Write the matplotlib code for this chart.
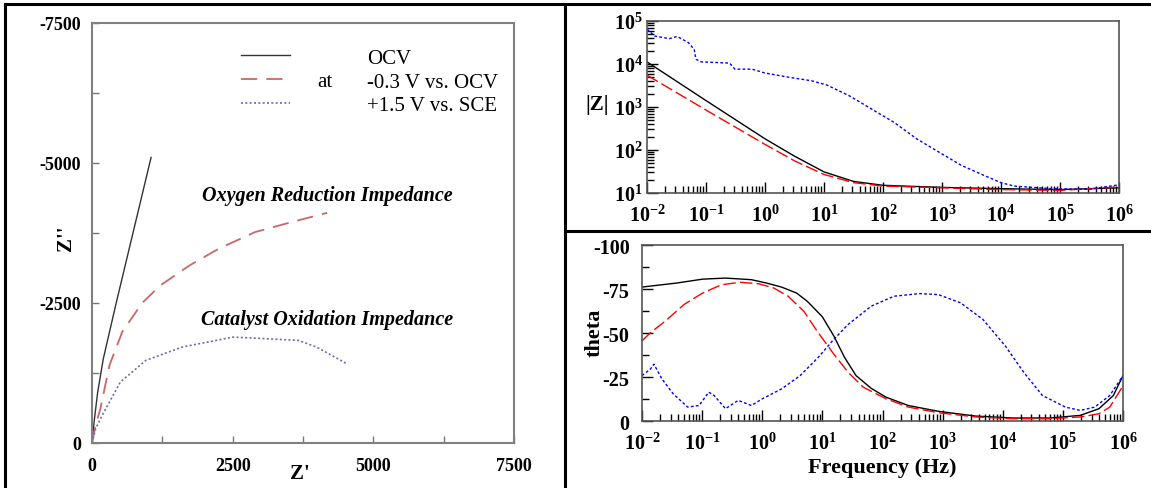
import matplotlib
matplotlib.use("Agg")
import matplotlib.pyplot as plt
import numpy as np
from matplotlib.lines import Line2D
from matplotlib.ticker import LogLocator, NullFormatter, MultipleLocator

plt.rcParams["font.family"] = ["Liberation Serif", "DejaVu Serif"]
plt.rcParams["mathtext.fontset"] = "custom"
plt.rcParams["mathtext.rm"] = "Liberation Serif"
plt.rcParams["mathtext.bf"] = "Liberation Serif:bold"
plt.rcParams["mathtext.it"] = "Liberation Serif:italic"

# Nyquist data (Z', Z'')
ocv_re = [0, 40, 100, 200, 430, 1050]
ocv_im = [0, -400, -900, -1500, -2500, -5100]
neg_re = [0, 60, 149, 310, 536, 891, 1214, 1731, 2248, 2894, 3540, 4180]
neg_im = [0, -300, -613, -1386, -1981, -2500, -2813, -3170, -3467, -3765, -3943, -4110]
pos_re = [0, 65, 181, 504, 956, 1602, 2506, 2894, 3669, 3992, 4509]
pos_im = [0, -256, -494, -1088, -1475, -1713, -1891, -1873, -1832, -1713, -1427]

# Bode |Z|
zf_ocv = [0.01, 0.1, 1, 3.16, 10, 31.6, 100, 1000, 1e4, 1e5, 1e6]
zm_ocv = [11200, 1410, 182, 72, 31, 18.6, 15.1, 13.5, 12.6, 12.0, 13.2]
zf_neg = [0.01, 0.1, 1, 3.16, 10, 31.6, 100, 1000, 1e4, 1e5, 1e6]
zm_neg = [5500, 850, 135, 56, 27, 17.4, 14.5, 13.2, 12.0, 11.5, 13.8]
zf_pos = [0.01, 0.0135, 0.024, 0.0324, 0.05, 0.063, 0.0676, 0.083, 0.251, 0.309,
          0.603, 1, 2.57, 6.17, 11.2, 26.9, 64.6, 155, 372, 891, 2140, 5130,
          1e4, 16600, 72400, 309000, 1e6]
zm_pos = [64600, 44700, 38900, 43700, 31600, 21900, 12900, 11200, 10500, 7590,
          7590, 6170, 4900, 4070, 3240, 1820, 891, 437, 182, 89, 43.7, 25.7,
          17.4, 14.5, 12.6, 12.2, 15.5]

# Bode phase
tf_ocv = [0.01, 0.038, 0.102, 0.245, 0.66, 1.17, 2.09, 3.72, 5.62, 10, 15.5,
          23.4, 36.3, 64.6, 115, 269, 851, 3550, 14800, 61700, 195000, 398000,
          692000, 1e6]
th_ocv = [-76.1, -78.4, -80.6, -81.2, -80.3, -78.4, -76.1, -72.7, -68, -59.2,
          -48.3, -36.1, -25.8, -18.6, -13.5, -8.8, -5.5, -2.8, -1.7, -1.7, -3.2,
          -7, -14.5, -25.8]
tf_neg = [0.01, 0.0138, 0.0245, 0.05, 0.102, 0.209, 0.427, 0.871, 1.55, 2.69,
          4.9, 8.51, 15.5, 26.9, 47.9, 115, 269, 851, 3550, 14800, 61700,
          195000, 398000, 603000, 1e6]
th_neg = [-45.5, -50.2, -56.8, -66.2, -72.7, -77.4, -78.8, -78, -75.6, -70.9,
          -62.4, -50.2, -38, -27.6, -19.2, -12.6, -7.9, -4.7, -2.3, -1.3, -1.3,
          -2.3, -4.1, -7.9, -20]
tf_pos = [0.01, 0.0138, 0.0158, 0.0214, 0.0331, 0.0575, 0.0891, 0.129, 0.158,
          0.245, 0.398, 0.661, 1, 2.09, 4.27, 8.51, 15.5, 26.9, 64.6, 155, 417,
          851, 2000, 4680, 11000, 22400, 45700, 110000, 195000, 339000, 603000, 1e6]
th_pos = [-25.8, -29.5, -32.3, -23.9, -15.4, -7.9, -8.8, -16.4, -14.5, -7,
          -11.7, -8.8, -12.6, -18.2, -25.8, -36.1, -46.4, -54.9, -65.2, -70.9,
          -72.4, -71.8, -67.1, -57.7, -42.7, -27.6, -14.5, -7.9, -6, -7.9,
          -14.5, -25.8]

legend_labels = ["OCV", "-0.3 V vs. OCV", "+1.5 V vs. SCE"]
nyq_ticks = [0, 2500, 5000, 7500]
dec_ticks = [1e-2, 1e-1, 1e0, 1e1, 1e2, 1e3, 1e4, 1e5, 1e6]
dec_labels = [r"$\mathbf{10^{-2}}$", r"$\mathbf{10^{-1}}$", r"$\mathbf{10^{0}}$",
              r"$\mathbf{10^{1}}$", r"$\mathbf{10^{2}}$", r"$\mathbf{10^{3}}$",
              r"$\mathbf{10^{4}}$", r"$\mathbf{10^{5}}$", r"$\mathbf{10^{6}}$"]
zmag_ticks = [1e1, 1e2, 1e3, 1e4, 1e5]
zmag_labels = [r"$\mathbf{10^{1}}$", r"$\mathbf{10^{2}}$", r"$\mathbf{10^{3}}$",
               r"$\mathbf{10^{4}}$", r"$\mathbf{10^{5}}$"]
theta_ticks = [0, -25, -50, -75, -100]
theta_labels = ["0", "-25", "-50", "-75", "-100"]

W, H = 1151, 489
fig = plt.figure(figsize=(W / 100, H / 100), dpi=100)


def box(x0, y0, x1, y1):
    return [x0 / W, 1 - y1 / H, (x1 - x0) / W, (y1 - y0) / H]


# frame lines
for xs, ys in [((5, W), (5, 5)), ((5, 5), (5, H)), ((565, 565), (5, H)), ((565, W), (232, 232))]:
    fig.add_artist(Line2D([x / W for x in xs], [1 - y / H for y in ys],
                          color="black", lw=2.2, transform=fig.transFigure))

# ---- Nyquist ----
ax = fig.add_axes(box(92, 24, 514, 444))
ax.plot(ocv_re, ocv_im, color="#333333", lw=1.0)
ax.plot(neg_re, neg_im, color="#c86868", lw=1.3, dashes=(9, 5))
ax.plot(pos_re, pos_im, color="#6a6ab8", lw=1.2, dashes=(1.2, 1.4))
ax.set_xlim(0, 7500)
ax.set_ylim(0, -7500)
ax.set_xticks(nyq_ticks)
ax.set_xticklabels([str(v) for v in nyq_ticks])
ax.set_yticks([-v for v in nyq_ticks])
ax.set_yticklabels(["0" if v == 0 else "-%d" % v for v in nyq_ticks])
ax.xaxis.set_minor_locator(MultipleLocator(1250))
ax.yaxis.set_minor_locator(MultipleLocator(1250))
ax.tick_params(which="both", direction="in", length=5, width=1, color="#777777",
               labelsize=13)
ax.tick_params(axis="x", pad=10)
ax.tick_params(axis="y", pad=8)
for lab in ax.get_xticklabels() + ax.get_yticklabels():
    lab.set_fontweight("bold")
for sp in ax.spines.values():
    sp.set_color("#808080")
    sp.set_linewidth(1.5)
ax.text(-0.062, 0.49, "Z''", transform=ax.transAxes, rotation=90, ha="center",
        va="center", fontsize=15, fontweight="bold")
ax.text(0.493, -0.072, "Z'", transform=ax.transAxes, ha="center", va="center",
        fontsize=15, fontweight="bold")
handles = [Line2D([], [], color="#333333", lw=1.0),
           Line2D([], [], color="#c86868", lw=1.3, dashes=(9, 5)),
           Line2D([], [], color="#6a6ab8", lw=1.2, dashes=(1.2, 1.4))]
ax.legend(handles, legend_labels, loc="upper left", bbox_to_anchor=(0.352, 0.94),
          frameon=False, fontsize=15, handlelength=2.36, handletextpad=3.7,
          labelspacing=0.2, borderaxespad=0, borderpad=0)
ax.text(0.552, 0.86, "at", transform=ax.transAxes, ha="center", va="center",
        fontsize=15)
ax.text(0.557, 0.590, "Oxygen Reduction Impedance", transform=ax.transAxes,
        ha="center", va="center", fontsize=14.5, fontweight="bold", fontstyle="italic")
ax.text(0.557, 0.295, "Catalyst Oxidation Impedance", transform=ax.transAxes,
        ha="center", va="center", fontsize=14.5, fontweight="bold", fontstyle="italic")


def style_bode(a):
    a.set_xscale("log")
    a.set_xlim(1e-2, 1e6)
    a.set_xticks(dec_ticks)
    a.set_xticklabels(dec_labels)
    a.xaxis.set_minor_locator(LogLocator(base=10, subs=np.arange(2, 10), numticks=100))
    a.xaxis.set_minor_formatter(NullFormatter())
    a.tick_params(which="major", direction="in", length=8, width=1, labelsize=14.5,
                  top=False, right=False)
    a.tick_params(which="minor", direction="in", length=5, width=1,
                  top=False, right=False)
    for sp in a.spines.values():
        sp.set_color("#555555")
        sp.set_linewidth(1.2)


# ---- |Z| ----
az = fig.add_axes(box(647, 22, 1119, 194))
az.plot(zf_ocv, zm_ocv, color="black", lw=1.0)
az.plot(zf_neg, zm_neg, color="red", lw=1.0, dashes=(9, 3))
az.plot(zf_pos, zm_pos, color="blue", lw=1.0, dashes=(2, 1.6))
style_bode(az)
az.set_yscale("log")
az.set_ylim(1e1, 1e5)
az.set_yticks(zmag_ticks)
az.set_yticklabels(zmag_labels)
az.yaxis.set_minor_locator(LogLocator(base=10, subs=np.arange(2, 10), numticks=100))
az.yaxis.set_minor_formatter(NullFormatter())
az.tick_params(axis="x", which="major", pad=8)
az.tick_params(axis="y", which="major", pad=3)
az.text(-0.105, 0.52, "|Z|", transform=az.transAxes, ha="center",
        va="center", fontsize=15, fontweight="bold")

# ---- phase ----
at = fig.add_axes(box(642, 246, 1123, 422))
at.plot(tf_ocv, th_ocv, color="black", lw=1.0)
at.plot(tf_neg, th_neg, color="red", lw=1.0, dashes=(9, 3))
at.plot(tf_pos, th_pos, color="blue", lw=1.0, dashes=(2, 1.6))
style_bode(at)
at.set_ylim(0, -100)
at.set_yticks(theta_ticks)
at.set_yticklabels(theta_labels)
at.yaxis.set_minor_locator(MultipleLocator(12.5))
at.tick_params(axis="x", which="major", pad=8)
at.tick_params(axis="y", which="major", pad=9)
for lab in at.get_yticklabels():
    lab.set_fontweight("bold")
at.text(-0.098, 0.506, "theta", transform=at.transAxes, rotation=90, ha="center",
        va="center", fontsize=16, fontweight="bold")
at.text(0.5, -0.26, "Frequency (Hz)", transform=at.transAxes, ha="center",
        va="center", fontsize=16, fontweight="bold")

fig.savefig("out.png", dpi=100)
